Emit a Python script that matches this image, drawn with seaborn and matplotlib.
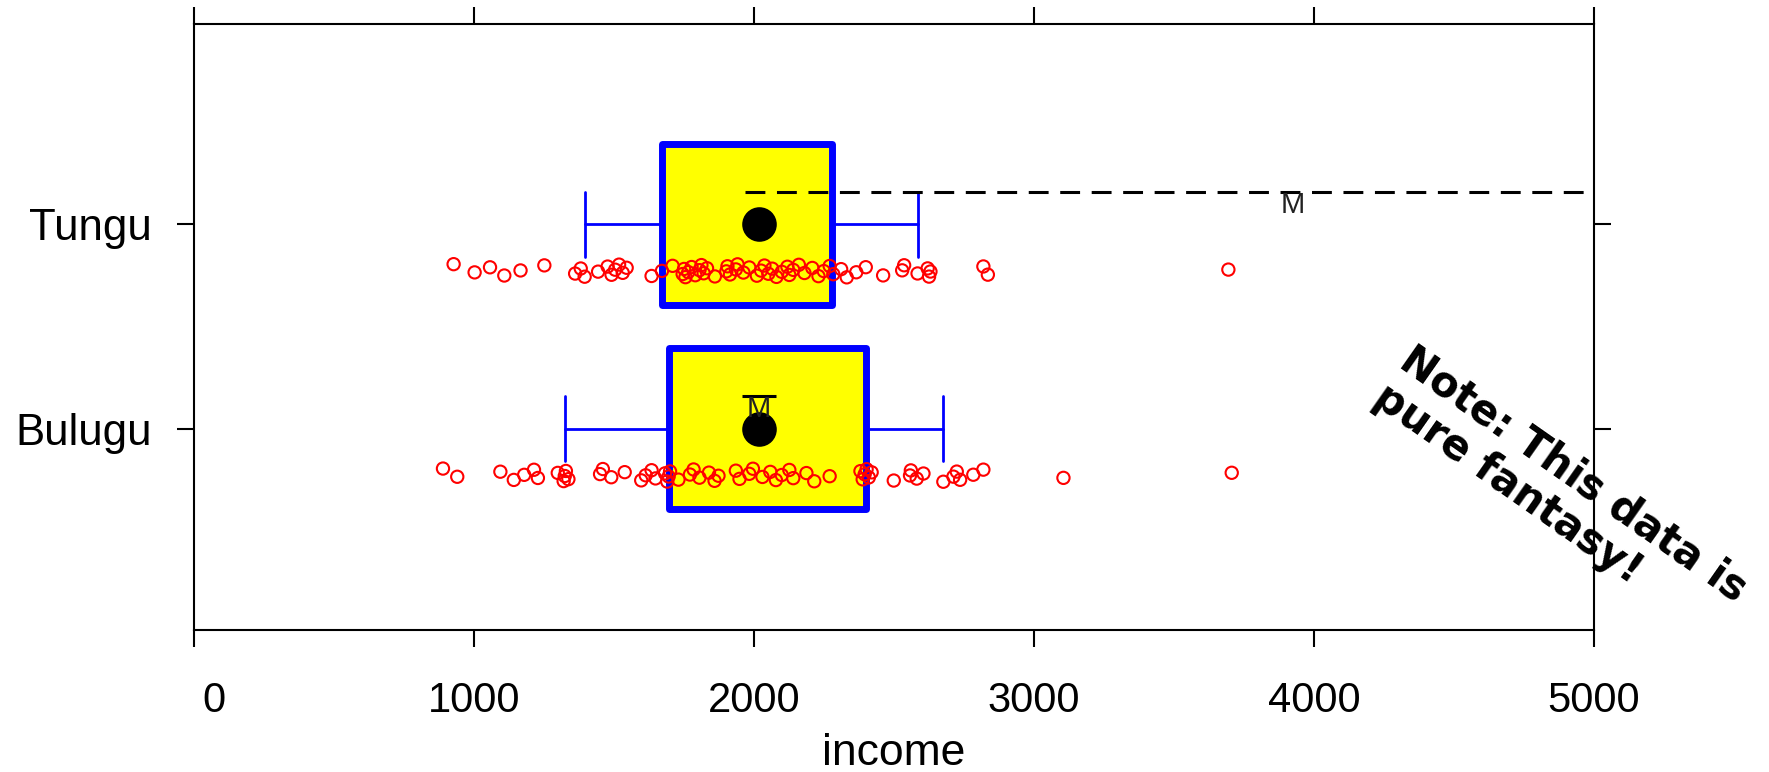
import numpy as np
import pandas as pd
import matplotlib
matplotlib.use("Agg")
import matplotlib.pyplot as plt
import matplotlib.transforms as mtransforms
import seaborn as sns

# ---------------- data ----------------
groups = ["Bulugu", "Tungu"]

income_bulugu = [889, 940, 1094, 1142, 1179, 1214, 1228, 1299, 1320, 1324, 1328, 1337,
                 1450, 1460, 1490, 1538, 1597, 1613, 1634, 1648, 1682, 1690, 1695, 1700,
                 1730, 1771, 1784, 1805, 1839, 1859, 1873, 1935, 1948, 1983, 1996, 2030,
                 2058, 2078, 2099, 2126, 2140, 2187, 2215, 2270, 2380, 2388, 2395, 2402,
                 2410, 2420, 2499, 2557, 2560, 2581, 2605, 2676, 2712, 2724, 2736, 2783,
                 2819, 3105, 3706]
income_tungu = [927, 1002, 1057, 1108, 1166, 1251, 1361, 1381, 1395, 1443, 1477, 1491,
                1504, 1518, 1531, 1545, 1634, 1671, 1709, 1745, 1750, 1755, 1765, 1777,
                1790, 1805, 1812, 1820, 1832, 1860, 1901, 1905, 1914, 1935, 1941, 1962,
                1983, 2010, 2025, 2037, 2051, 2065, 2080, 2099, 2119, 2126, 2140, 2160,
                2180, 2208, 2230, 2249, 2270, 2283, 2311, 2331, 2365, 2399, 2461, 2529,
                2536, 2584, 2620, 2625, 2630, 2819, 2835, 3694]

box_whislo = [1325, 1396]
box_q1 = [1698, 1672]
box_med = [2018, 2018]
box_q3 = [2401, 2280]
box_whishi = [2675, 2587]

mean_vals = [2018, 3925]
ci_halfwidth = [60, 1958]

x_ticks = [0, 1000, 2000, 3000, 4000, 5000]
x_label = "income"
note_text = "Note: This data is\npure fantasy!"

# ---------------- style ----------------
sns.set_style("white")
plt.rcParams["font.family"] = ["Liberation Sans", "DejaVu Sans"]
plt.rcParams["text.color"] = "black"
plt.rcParams["axes.labelcolor"] = "black"

fig = plt.figure(figsize=(17.69, 7.72), dpi=100)
ax = fig.add_axes([0.1097, 0.1839, 0.7914, 0.785])

positions = np.arange(1, len(groups) + 1)

# boxes
stats = []
for i, g in enumerate(groups):
    stats.append(dict(label=g, whislo=box_whislo[i], q1=box_q1[i], med=box_med[i],
                      q3=box_q3[i], whishi=box_whishi[i], fliers=[]))
ax.bxp(stats, positions=positions, widths=0.79, orientation="horizontal",
       patch_artist=True, showfliers=False, capwidths=0.32,
       boxprops=dict(facecolor="#FFFF00", edgecolor="#0000FF", linewidth=5,
                     joinstyle="round"),
       whiskerprops=dict(color="#0000FF", linewidth=2.0),
       capprops=dict(color="#0000FF", linewidth=2.0),
       medianprops=dict(linewidth=0, alpha=0))

# median dots
sns.scatterplot(x=box_med, y=positions, ax=ax, s=620, color="black",
                linewidth=0, zorder=5, legend=False)

# jittered raw points below each box
rows = []
for i, vals in enumerate([income_bulugu, income_tungu]):
    n = len(vals)
    offs = -0.195 - 0.065 * ((np.arange(n) * 0.6180339) % 1.0)
    for v, o in zip(vals, offs):
        rows.append(dict(group=groups[i], income=v, ypos=positions[i] + o))
df = pd.DataFrame(rows)
sns.scatterplot(data=df, x="income", y="ypos", ax=ax, marker="o", s=78,
                facecolor="none", edgecolor="#FF0000", linewidth=1.5,
                zorder=6, legend=False)

# mean +- interval line with "M"
line_styles = ["solid", (0, (6.5, 3.8))]
for i in range(len(groups)):
    yl = positions[i] + 0.16
    ax.hlines(yl, mean_vals[i] - ci_halfwidth[i], mean_vals[i] + ci_halfwidth[i],
              colors="black", linewidth=2.2, linestyles=[line_styles[i]], zorder=7)
    ax.text(mean_vals[i], yl + 0.005, "M", ha="center", va="top", fontsize=21,
            color="#222222", zorder=8)

# axes
ax.set_xlim(0, 5000)
ax.set_ylim(0.015, 2.98)
ax.set_xticks(x_ticks)
ax.set_xticklabels([str(t) for t in x_ticks])
ax.set_yticks(positions)
ax.set_yticklabels(groups)
ax.set_ylabel("")
ax.set_xlabel(x_label, fontsize=32, labelpad=8, color="black")

for sp in ax.spines.values():
    sp.set_visible(True)
    sp.set_color("black")
    sp.set_linewidth(1.5)

ax.tick_params(axis="x", bottom=True, top=True, labelbottom=True, labeltop=False,
               direction="out", length=12, width=1.5, labelsize=30, pad=25,
               colors="black")
ax.tick_params(axis="y", left=True, right=True, labelleft=True, labelright=False,
               direction="out", length=12.5, width=1.5, labelsize=31.5, pad=18,
               colors="black")

lab0 = ax.get_xticklabels()[0]
lab0.set_transform(lab0.get_transform() +
                   mtransforms.ScaledTranslation(0.20, 0, fig.dpi_scale_trans))

# rotated note
fig.text(0.776, 0.482, note_text, rotation=-35, rotation_mode="anchor",
         ha="left", va="baseline", fontsize=30, fontweight="bold",
         family="DejaVu Sans", linespacing=1.1, color="black")

fig.savefig("out.png", dpi=100, facecolor="white")
